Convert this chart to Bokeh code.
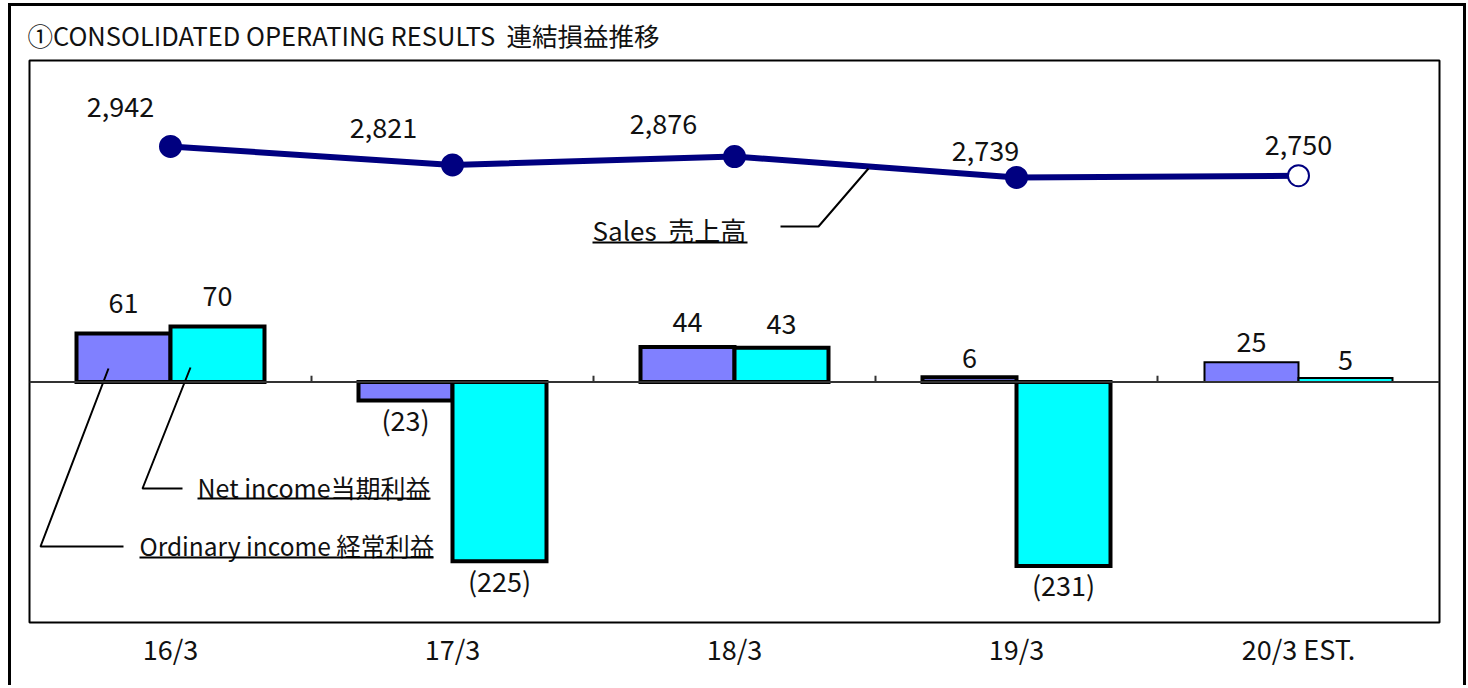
from bokeh.plotting import figure
from bokeh.models import Range1d, FixedTicker, Span, ColumnDataSource, Title
from bokeh.layouts import column
from bokeh.embed import file_html
from bokeh.resources import INLINE
from bokeh.core.properties import value

# ---------------- data ----------------
categories = ["16/3", "17/3", "18/3", "19/3", "20/3 EST."]
sales = [2942, 2821, 2876, 2739, 2750]
ordinary_income = [61, -23, 44, 6, 25]
net_income = [70, -225, 43, -231, 5]
is_estimate = [False, False, False, False, True]

title_text = "①CONSOLIDATED OPERATING RESULTS\u00a0\u00a0連結損益推移"
sales_name = "Sales\u00a0\u00a0売上高"
ordinary_name = "Ordinary income 経常利益"
net_name = "Net income当期利益"

# ---------------- layout / style ----------------
FONT = "Noto Sans CJK JP"
NAVY = "#000080"
ORD_COLOR = "#8080FF"
NET_COLOR = "#00FFFF"
TEXT_COLOR = "#111111"

FIG_X0, FIG_Y0 = 11, 6           # page position of the figure (inside the outer border)
FIG_W, FIG_H = 1452, 679
FRAME_L, FRAME_R, FRAME_T, FRAME_B = 29, 1439, 60, 622  # page px of the inner box

# pixel offsets of the sales value labels (manually placed in the original)
sales_label_dx = [-50, -69, -71, -31, 0]
sales_label_dy = [-39, -37, -33, -26, -31]
# pixel offsets of the income value labels
ord_label_dy = [-31, 19, -25, -19, -20]
net_label_dy = [-30, 19, -24, 19, -18]

idx = list(range(len(categories)))

p = figure(width=FIG_W, height=FIG_H,
           x_range=Range1d(-0.5, len(categories) - 0.5),
           y_range=Range1d(-302, 404),
           output_backend="svg", toolbar_location=None, y_axis_location=None,
           min_border_left=FRAME_L - FIG_X0, min_border_right=FIG_X0 + FIG_W - FRAME_R,
           min_border_top=FRAME_T - FIG_Y0, min_border_bottom=FIG_Y0 + FIG_H - FRAME_B,
           background_fill_color="white", border_fill_color="white")
p.extra_y_ranges = {"sales": Range1d(-177, 3505), "py": Range1d(FRAME_B, FRAME_T)}
p.extra_x_ranges = {"px": Range1d(FRAME_L, FRAME_R)}

p.xgrid.visible = False
p.ygrid.visible = False
p.outline_line_color = "black"
p.outline_line_width = 2

# title
p.title = Title(text=title_text, align="left", text_font=FONT, text_font_size="25.5px",
                text_font_style="normal", text_color=TEXT_COLOR, offset=-2, standoff=15)

# x axis (category labels)
p.xaxis.ticker = FixedTicker(ticks=idx)
p.xaxis.major_label_overrides = {i: c for i, c in zip(idx, categories)}
p.xaxis.axis_line_color = None
p.xaxis.major_tick_line_color = None
p.xaxis.minor_tick_line_color = None
p.xaxis.major_label_text_font = FONT
p.xaxis.major_label_text_font_size = "27px"
p.xaxis.major_label_text_color = TEXT_COLOR
p.xaxis.major_label_standoff = 0

# baseline
p.add_layout(Span(location=0, dimension="width", line_color="#333333", line_width=2))

# category boundary ticks on the baseline
bounds = [i + 0.5 for i in idx[:-1]]
p.segment(x0=bounds, x1=bounds, y0=[0] * len(bounds), y1=[8] * len(bounds),
          line_color="#333333", line_width=2)

# bars
def fmt_income(v):
    return f"({abs(v)})" if v < 0 else f"{v}"

lw = [2 if e else 4 for e in is_estimate]
ord_src = ColumnDataSource(dict(x=[i - 1 / 6 for i in idx], top=ordinary_income, lw=lw,
                                label=[fmt_income(v) for v in ordinary_income], dy=ord_label_dy))
net_src = ColumnDataSource(dict(x=[i + 1 / 6 for i in idx], top=net_income, lw=lw,
                                label=[fmt_income(v) for v in net_income], dy=net_label_dy))
for src, col in ((ord_src, ORD_COLOR), (net_src, NET_COLOR)):
    p.vbar(x="x", top="top", bottom=0, width=1 / 3, source=src, fill_color=col,
           line_color="black", line_width="lw", line_join="miter")
    p.text(x="x", y="top", text="label", y_offset="dy", source=src,
           text_align="center", text_baseline="middle", text_font=value(FONT),
           text_font_size="27px", text_color=TEXT_COLOR)

# sales line
sales_src = ColumnDataSource(dict(x=idx, y=sales,
                                  fill=["white" if e else NAVY for e in is_estimate],
                                  label=[f"{v:,}" for v in sales],
                                  dx=sales_label_dx, dy=sales_label_dy))
p.line(x="x", y="y", source=sales_src, y_range_name="sales", line_color=NAVY, line_width=6)
p.scatter(x="x", y="y", source=sales_src, y_range_name="sales", size=21,
          fill_color="fill", line_color=NAVY, line_width=2)
p.text(x="x", y="y", text="label", x_offset="dx", y_offset="dy", source=sales_src,
       y_range_name="sales", text_align="center", text_baseline="middle",
       text_font=value(FONT), text_font_size="27px", text_color=TEXT_COLOR)

# series name labels with leader lines (page-pixel layout)
names = [sales_name, net_name, ordinary_name]
name_x = [592, 197, 139]
name_y = [229, 486, 545]
name_size = ["26px", "25px", "24.5px"]
underline_x1 = [747, 430, 433]
underline_y = [242, 498, 557]
leaders = [([780, 818, 868], [226, 226, 168]),
           ([182, 142, 190], [488, 488, 367]),
           ([123, 40, 108], [546, 546, 368])]

name_src = ColumnDataSource(dict(x=name_x, y=name_y, text=names, size=name_size))
p.text(x="x", y="y", text="text", text_font_size="size", source=name_src,
       x_range_name="px", y_range_name="py",
       text_align="left", text_baseline="middle", text_font=value(FONT),
       text_color=TEXT_COLOR)
p.segment(x0=name_x, x1=underline_x1, y0=underline_y, y1=underline_y,
          x_range_name="px", y_range_name="py", line_color="black", line_width=2)
for lx, ly in leaders:
    p.line(x=lx, y=ly, x_range_name="px", y_range_name="py", line_color="black", line_width=2)

layout = column(p, styles={"border-top": "3px solid black",
                           "border-left": "3px solid black",
                           "border-right": "3px solid black",
                           "margin-left": "8px",
                           "margin-top": "3px"})

open("out.html", "w").write(file_html(layout, INLINE))
